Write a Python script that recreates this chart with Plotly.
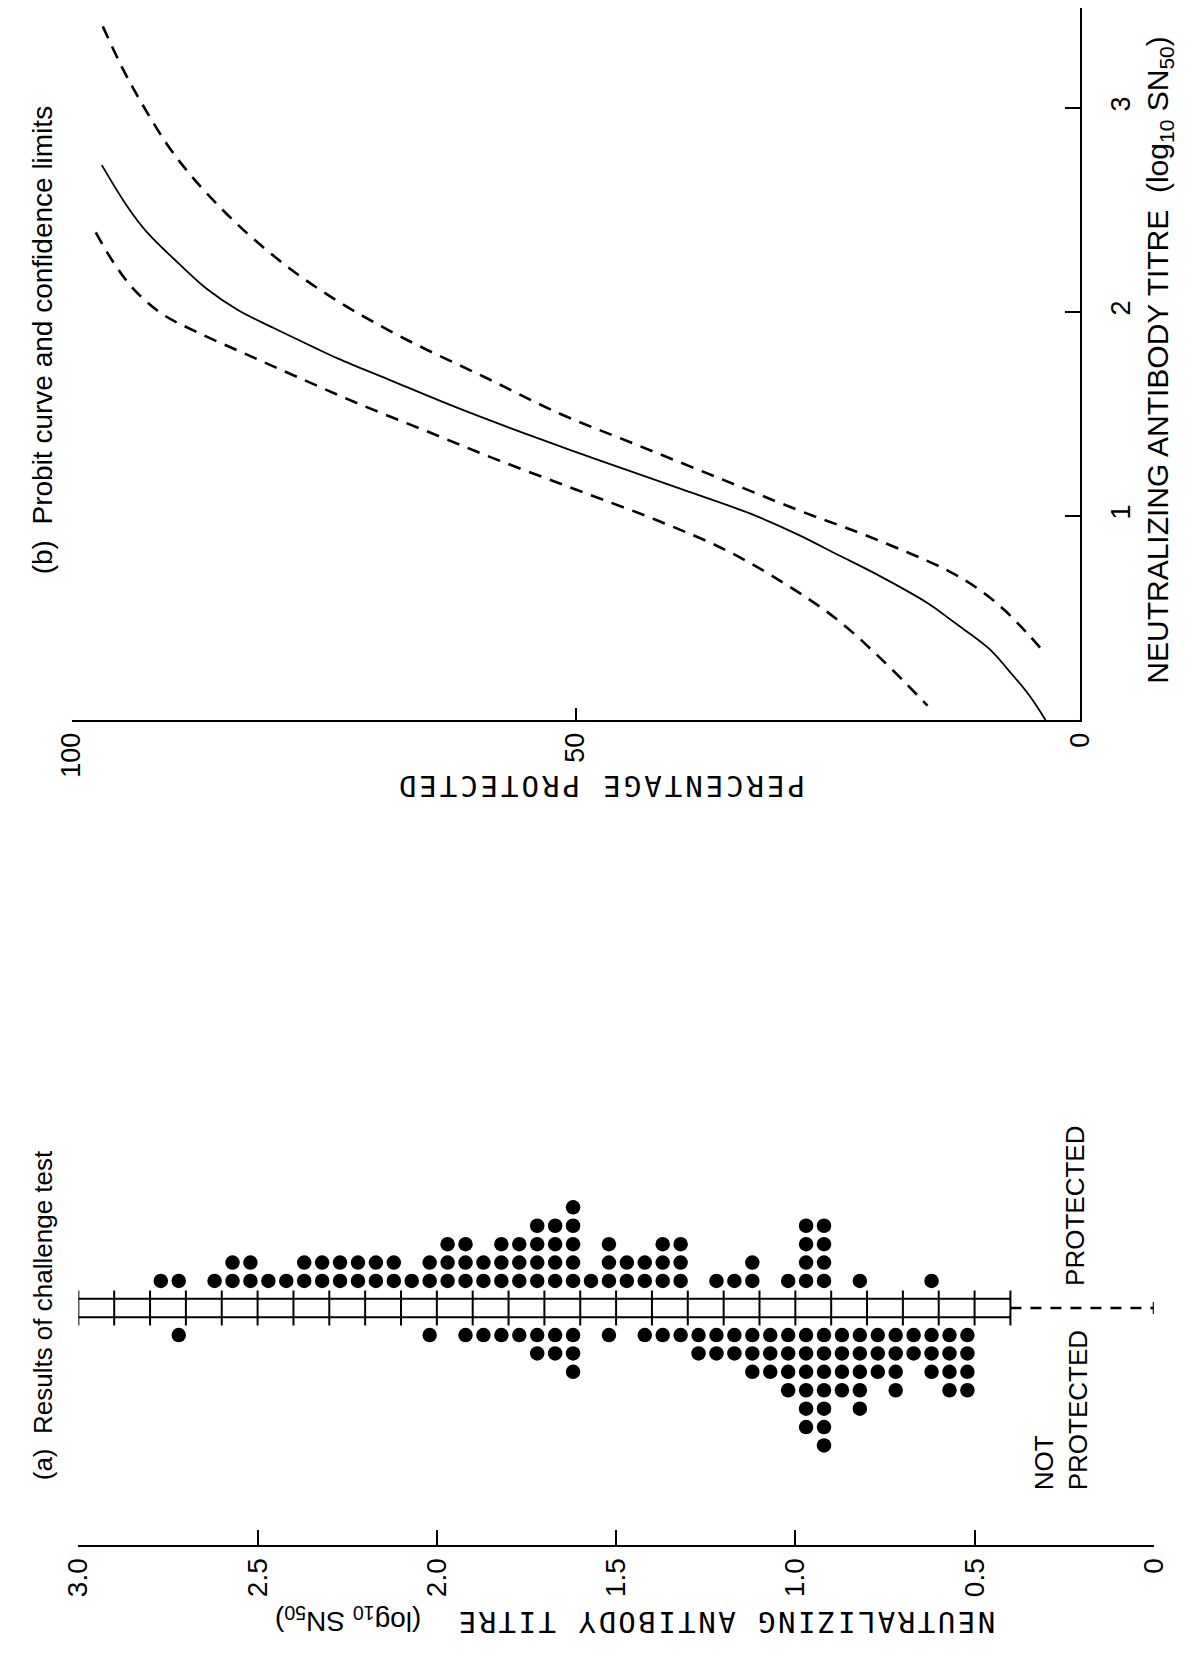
import plotly.graph_objects as go

W, H = 1200, 1663

# ---------------- Panel (b): probit curve and confidence limits ----------------
PROBIT_PCT = [97.0, 94.5, 92.5, 89.2, 86.5, 83.5, 79.9, 76.1, 73.5, 68.6, 61.2, 53.7,
              47.5, 40.0, 32.6, 28.0, 24.0, 20.0, 15.0, 12.5, 9.0, 7.0, 5.0, 3.4]
PROBIT_TITRE = [2.72, 2.52, 2.39, 2.23, 2.11, 2.01, 1.92, 1.83, 1.77, 1.67, 1.52, 1.38,
                1.27, 1.14, 1.01, 0.91, 0.81, 0.71, 0.57, 0.48, 0.35, 0.24, 0.12, 0.0]

UPPER_PCT = [96.9, 95.0, 93.0, 90.5, 88.0, 85.0, 82.0, 78.0, 73.5, 67.0, 59.0, 51.5,
             44.0, 36.0, 28.0, 22.0, 17.0, 13.0, 10.0, 7.5, 5.3, 3.5]
UPPER_TITRE = [3.40, 3.20, 3.02, 2.82, 2.66, 2.50, 2.36, 2.20, 2.05, 1.87, 1.68, 1.50,
               1.35, 1.19, 1.03, 0.92, 0.82, 0.73, 0.64, 0.54, 0.43, 0.33]

LOWER_PCT = [97.6, 95.8, 93.8, 91.0, 87.5, 83.0, 78.0, 72.0, 65.0, 58.0, 50.0, 42.0,
             35.0, 29.0, 24.0, 19.5, 15.1]
LOWER_TITRE = [2.39, 2.24, 2.11, 1.99, 1.90, 1.80, 1.69, 1.56, 1.42, 1.28, 1.13, 0.98,
               0.83, 0.66, 0.49, 0.29, 0.07]

PCT_TICKS = [100, 50, 0]
PCT_TICKTEXT = ["100", "50", "0"]
TITRE_TICKS_B = [1, 2, 3]
TITRE_TICKTEXT_B = ["1", "2", "3"]

# ---------------- Panel (a): results of challenge test ----------------
COL_TITRE = [2.77, 2.72, 2.67, 2.62, 2.57, 2.52, 2.47, 2.42, 2.37, 2.32, 2.27, 2.22,
             2.17, 2.12, 2.07, 2.02, 1.97, 1.92, 1.87, 1.82, 1.77, 1.72, 1.67, 1.62,
             1.57, 1.52, 1.47, 1.42, 1.37, 1.32, 1.27, 1.22, 1.17, 1.12, 1.07, 1.02,
             0.97, 0.92, 0.87, 0.82, 0.77, 0.72, 0.67, 0.62, 0.57, 0.52]
N_PROTECTED = [1, 1, 0, 1, 2, 2, 1, 1, 2, 2, 2, 2,
               2, 2, 1, 2, 3, 3, 2, 3, 3, 4, 4, 5,
               1, 3, 2, 2, 3, 3, 0, 1, 1, 2, 0, 1,
               4, 4, 0, 1, 0, 0, 0, 1, 0, 0]
N_NOT_PROTECTED = [0, 1, 0, 0, 0, 0, 0, 0, 0, 0, 0, 0,
                   0, 0, 0, 1, 0, 1, 1, 1, 1, 2, 2, 3,
                   0, 1, 0, 1, 1, 1, 2, 2, 2, 3, 3, 4,
                   6, 7, 4, 5, 3, 4, 2, 3, 4, 4]

BOX_TICKS = [3.0, 2.9, 2.8, 2.7, 2.6, 2.5, 2.4, 2.3, 2.2, 2.1, 2.0, 1.9, 1.8, 1.7,
             1.6, 1.5, 1.4, 1.3, 1.2, 1.1, 1.0, 0.9, 0.8, 0.7, 0.6, 0.5, 0.4]
BOX_START, BOX_END, DASH_END = 3.0, 0.4, 0.0

TITRE_TICKS_A = [3.0, 2.5, 2.0, 1.5, 1.0, 0.5, 0.0]
TITRE_TICKTEXT_A = ["3.0", "2.5", "2.0", "1.5", "1.0", "0.5", "0"]

# ---------------- build dot positions (stacked rows) ----------------
dot_x, dot_y = [], []
ROW_OFFSET = 0.47
for v, p, n in zip(COL_TITRE, N_PROTECTED, N_NOT_PROTECTED):
    for i in range(1, p + 1):
        dot_x.append(v)
        dot_y.append(i + ROW_OFFSET)
    for i in range(1, n + 1):
        dot_x.append(v)
        dot_y.append(-(i + ROW_OFFSET))

fig = go.Figure()
BLACK = "black"

# Panel (b) curves
fig.add_trace(go.Scatter(x=PROBIT_PCT, y=PROBIT_TITRE, mode="lines",
                         line=dict(color=BLACK, width=1.8, shape="spline", smoothing=1.0),
                         xaxis="x", yaxis="y", showlegend=False, hoverinfo="skip"))
fig.add_trace(go.Scatter(x=UPPER_PCT, y=UPPER_TITRE, mode="lines",
                         line=dict(color=BLACK, width=2.6, dash="13px,9px", shape="spline", smoothing=1.0),
                         xaxis="x", yaxis="y", showlegend=False, hoverinfo="skip"))
fig.add_trace(go.Scatter(x=LOWER_PCT, y=LOWER_TITRE, mode="lines",
                         line=dict(color=BLACK, width=2.6, dash="13px,9px", shape="spline", smoothing=1.0),
                         xaxis="x", yaxis="y", showlegend=False, hoverinfo="skip"))

# Panel (a) box with ticks
box_x = [BOX_START, BOX_END, None, BOX_START, BOX_END, None]
box_y = [0.5, 0.5, None, -0.5, -0.5, None]
for t in BOX_TICKS:
    box_x += [t, t, None]
    box_y += [-0.95, 0.95, None]
fig.add_trace(go.Scatter(x=box_x, y=box_y, mode="lines",
                         line=dict(color=BLACK, width=2),
                         xaxis="x2", yaxis="y2", showlegend=False, hoverinfo="skip"))
# dashed extension to zero with end bar
fig.add_trace(go.Scatter(x=[BOX_END, DASH_END], y=[0, 0], mode="lines",
                         line=dict(color=BLACK, width=2.4, dash="11px,9px"),
                         xaxis="x2", yaxis="y2", showlegend=False, hoverinfo="skip"))
fig.add_trace(go.Scatter(x=[DASH_END, DASH_END], y=[-0.32, 0.32], mode="lines",
                         line=dict(color=BLACK, width=2.2),
                         xaxis="x2", yaxis="y2", showlegend=False, hoverinfo="skip"))
# dots
fig.add_trace(go.Scatter(x=dot_x, y=dot_y, mode="markers",
                         marker=dict(color=BLACK, size=14.5, line=dict(width=0)),
                         xaxis="x2", yaxis="y2", showlegend=False, hoverinfo="skip"))


def px(x):
    return x / W


def py(y):
    return 1 - y / H


SANS = "Liberation Sans, Arial, sans-serif"
MONO = "DejaVu Sans Mono, Liberation Mono, monospace"

AXIS_A_Y = 1545          # pixel row of panel (a) axis line
CENTER_A_Y = 1308        # pixel row of the protected / not-protected divider
UNIT_A = 18.4            # pixels per dot row

fig.update_layout(
    width=W, height=H,
    margin=dict(l=0, r=0, t=0, b=0),
    paper_bgcolor="white", plot_bgcolor="white",
    showlegend=False,
    xaxis=dict(domain=[px(57), px(1092)], range=[100, 0], anchor="y",
               showline=True, linecolor=BLACK, linewidth=2,
               ticks="inside", ticklen=12, tickwidth=2, tickcolor=BLACK,
               tickvals=PCT_TICKS, ticktext=PCT_TICKTEXT, tickangle=-90,
               tickfont=dict(family=SANS, size=27, color=BLACK),
               showgrid=False, zeroline=False, ticklabelstandoff=0),
    yaxis=dict(domain=[py(720), py(8)], range=[0, 3.49], anchor="x", side="right",
               showline=True, linecolor=BLACK, linewidth=2,
               ticks="inside", ticklen=15, tickwidth=2, tickcolor=BLACK,
               tickvals=TITRE_TICKS_B, ticktext=TITRE_TICKTEXT_B, tickangle=-90,
               tickfont=dict(family=SANS, size=27, color=BLACK),
               showgrid=False, zeroline=False, ticklabelstandoff=16),
    xaxis2=dict(domain=[px(64), px(1168)], range=[3.0, 0.0], anchor="y2",
                showline=True, linecolor=BLACK, linewidth=2,
                ticks="inside", ticklen=15, tickwidth=2, tickcolor=BLACK,
                tickvals=TITRE_TICKS_A, ticktext=TITRE_TICKTEXT_A, tickangle=-90,
                tickfont=dict(family=SANS, size=28, color=BLACK),
                showgrid=False, zeroline=False, ticklabelstandoff=0),
    yaxis2=dict(domain=[py(AXIS_A_Y), py(1100)],
                range=[-(AXIS_A_Y - CENTER_A_Y) / UNIT_A, (CENTER_A_Y - 1100) / UNIT_A],
                anchor="x2", visible=False, showgrid=False, zeroline=False),
)

SUB_STYLE = "font-family:Liberation Sans, Arial, sans-serif;font-size:28px;letter-spacing:0px"
TITRE_TITLE_MONO = ('<span style="letter-spacing:2.5px">NEUTRALIZING ANTIBODY TITRE</span>  '
                    '<span style="' + SUB_STYLE + '">(log<sub>10</sub> SN<sub>50</sub>)</span>')

annotations = [
    dict(text="(b)  Probit curve and confidence limits", x=px(28), y=py(340),
         textangle=-90, font=dict(family=SANS, size=28, color=BLACK)),
    dict(text="NEUTRALIZING ANTIBODY TITRE  (log<sub>10</sub> SN<sub>50</sub>)",
         x=px(1174), y=py(360), textangle=-90,
         font=dict(family=SANS, size=30, color=BLACK)),
    dict(text='<span style="letter-spacing:3px">PERCENTAGE PROTECTED</span>',
         x=px(600), y=py(786), textangle=180,
         font=dict(family=MONO, size=29, color=BLACK)),
    dict(text="(a)  Results of challenge test", x=px(28), y=py(1315),
         textangle=-90, font=dict(family=SANS, size=26, color=BLACK)),
    dict(text="PROTECTED", x=px(1087), y=py(1206), textangle=-90,
         font=dict(family=SANS, size=26, color=BLACK)),
    dict(text="NOT<br>PROTECTED", x=px(1073), y=py(1410), textangle=-90, align="left",
         font=dict(family=SANS, size=26, color=BLACK)),
    dict(text=TITRE_TITLE_MONO, x=px(636), y=py(1621), textangle=180,
         font=dict(family=MONO, size=29, color=BLACK)),
]
for a in annotations:
    a.update(xref="paper", yref="paper", showarrow=False,
             xanchor="center", yanchor="middle")
fig.update_layout(annotations=annotations)

fig.write_html("out.html")
